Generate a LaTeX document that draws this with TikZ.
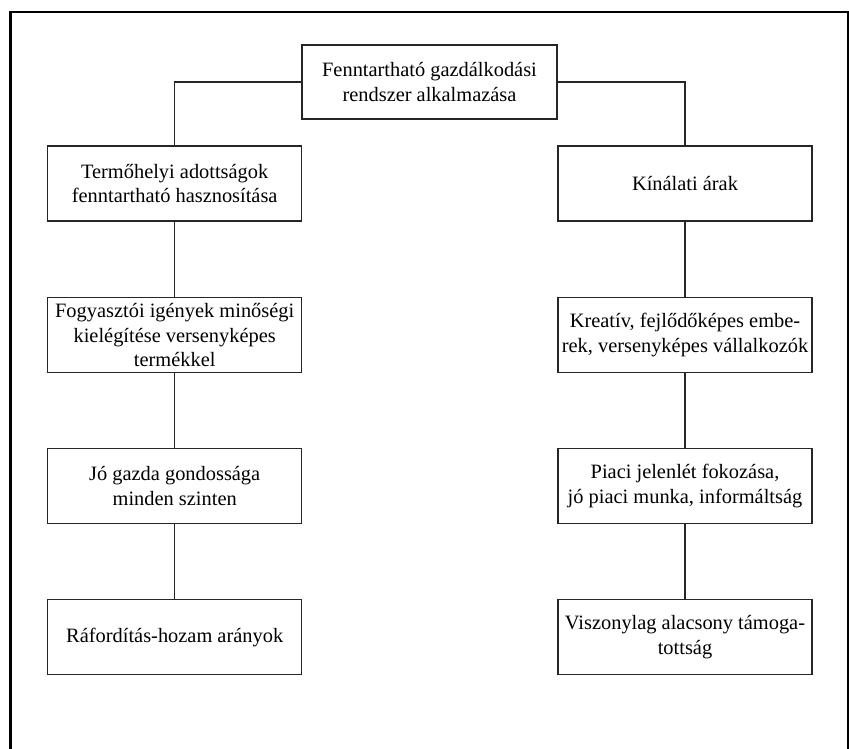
\documentclass[tikz,border=0pt]{standalone}
\usepackage{fontspec}
\setmainfont{Liberation Serif}
\begin{document}
\begin{tikzpicture}[x=1pt,y=-1pt,
  box/.style={draw=black!85,line width=1.2pt,minimum width=254pt,minimum height=75pt,
    inner sep=2pt,align=center,font=\fontsize{20.4}{24.5}\selectfont},
  link/.style={draw=black!85,line width=1.2pt}]
\useasboundingbox (0,0) rectangle (849,748);
% outer frame, open at the bottom
\draw[line width=3pt] (10.5,760) -- (10.5,12);
\draw[line width=2.2pt] (9,12) -- (849,12);
\draw[line width=1.7pt] (848,11) -- (848,760);
% boxes
\node[box,minimum width=255pt,minimum height=74pt] (top) at (429.5,82) {Fenntartható gazdálkodási\\rendszer alkalmazása};
\node[box] (l1) at (174.7,183.5) {Termőhelyi adottságok\\fenntartható hasznosítása};
\node[box] (l2) at (174.7,335) {Fogyasztói igények minőségi\\kielégítése versenyképes\\termékkel};
\node[box] (l3) at (174.7,486.2) {Jó gazda gondossága\\minden szinten};
\node[box] (l4) at (174.7,637.2) {Ráfordítás-hozam arányok};
\node[box] (r1) at (685,183.5) {Kínálati árak};
\node[box] (r2) at (685,335) {Kreatív, fejlődőképes embe-\\rek, versenyképes vállalkozók};
\node[box] (r3) at (685,486.2) {Piaci jelenlét fokozása,\\jó piaci munka, informáltság};
\node[box] (r4) at (685,637.2) {Viszonylag alacsony támoga-\\tottság};
% connectors
\draw[link] (top.west) -| (l1.north);
\draw[link] (top.east) -| (r1.north);
\draw[link] (l1) -- (l2);
\draw[link] (l2) -- (l3);
\draw[link] (l3) -- (l4);
\draw[link] (r1) -- (r2);
\draw[link] (r2) -- (r3);
\draw[link] (r3) -- (r4);
\end{tikzpicture}
\end{document}
